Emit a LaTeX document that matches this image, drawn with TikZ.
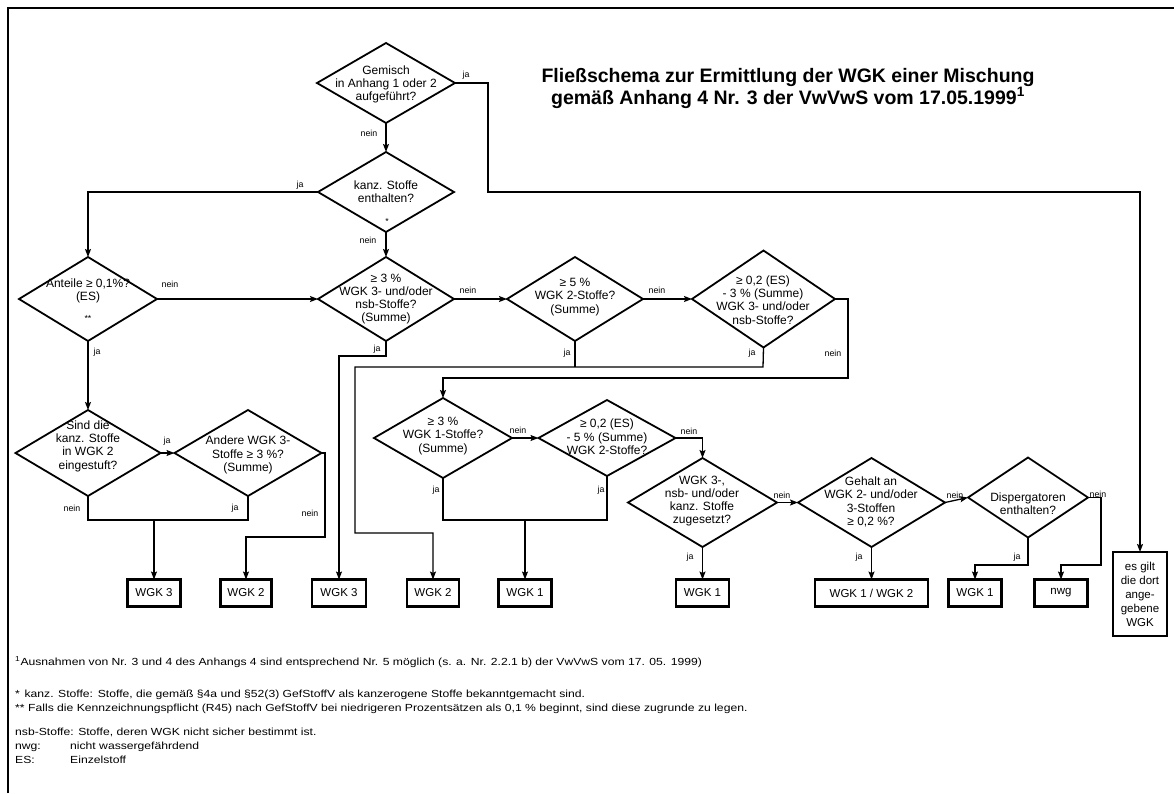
\documentclass[tikz,border=0pt]{standalone}
\usepackage{fontspec}
\setmainfont{Liberation Sans}
\usetikzlibrary{shapes.geometric,arrows.meta}
\begin{document}
\begin{tikzpicture}[x=1pt,y=-1pt,
  dia/.style={diamond,draw,line width=1.8pt,inner sep=0pt,outer sep=0pt},
  dtxt/.style={align=center,inner sep=0pt,font=\fontsize{12}{13.3}\selectfont},
  res/.style={draw,line width=2.5pt,inner sep=0pt,outer sep=0pt,minimum height=27pt,font=\fontsize{11.5}{13}\selectfont},
  lab/.style={inner sep=0pt,font=\fontsize{8.8}{9}\selectfont},
  ln/.style={line width=1.3pt},
  ar/.style={line width=1.3pt,-{Stealth[length=8pt,width=6pt,inset=1.5pt]}},
  foot/.style={anchor=base west,inner sep=0pt,font=\fontsize{10.3}{12}\selectfont},
]
\useasboundingbox (0,0) rectangle (1174,793);
\draw[line width=2.5pt] (8,793) -- (8,8) -- (1174,8);

% title
\node[align=center,inner sep=0pt,font=\fontsize{19.5}{22}\selectfont\bfseries] (title) at (788,88)
  {Fließschema zur Ermittlung der WGK einer Mischung\\gemäß Anhang 4 Nr. 3 der VwVwS vom 17.05.1999\textsuperscript{1}};

% diamonds
\node[dia,minimum width=138,minimum height=80] (d1) at (386,83) {};
\node[dtxt] (t1) at (386,84.5) {Gemisch\\in Anhang 1 oder 2\\aufgeführt?};
\node[dia,minimum width=136,minimum height=80] (d2) at (386,192) {};
\node[dtxt] (t2) at (386,191.5) {kanz. Stoffe\\enthalten?};
\node[lab] (s1) at (387,221) {*};
\node[dia,minimum width=138,minimum height=84] (d3) at (88,299) {};
\node[dtxt] (t3) at (88,291) {Anteile ≥ 0,1\%?\\(ES)};
\node[lab] (s2) at (88,318) {**};
\node[dia,minimum width=136,minimum height=84] (d4) at (386,299) {};
\node[dtxt] (t4) at (386,299) {≥ 3 \%\\WGK 3- und/oder\\nsb-Stoffe?\\(Summe)};
\node[dia,minimum width=136,minimum height=84] (d5) at (575,299) {};
\node[dtxt] (t5) at (575,297) {≥ 5 \%\\WGK 2-Stoffe?\\(Summe)};
\node[dia,minimum width=143,minimum height=97] (d6) at (763.5,299) {};
\node[dtxt] (t6) at (763,300) {≥ 0,2 (ES)\\- 3 \% (Summe)\\WGK 3- und/oder\\nsb-Stoffe?};
\node[dia,minimum width=145,minimum height=86] (d7) at (88,453) {};
\node[dtxt] (t7) at (88,446) {Sind die\\kanz. Stoffe\\in WGK 2\\eingestuft?};
\node[dia,minimum width=147,minimum height=86] (d8) at (248,453) {};
\node[dtxt] (t8) at (248,455) {Andere WGK 3-\\Stoffe ≥ 3 \%?\\(Summe)};
\node[dia,minimum width=138,minimum height=80] (d9) at (443,438) {};
\node[dtxt] (t9) at (443,436) {≥ 3 \%\\WGK 1-Stoffe?\\(Summe)};
\node[dia,minimum width=137,minimum height=76] (d10) at (607,438) {};
\node[dtxt] (t10) at (607,437) {≥ 0,2 (ES)\\- 5 \% (Summe)\\WGK 2-Stoffe?};
\node[dia,minimum width=149,minimum height=89] (d11) at (702.5,502.5) {};
\node[dtxt] (t11) at (702,501) {WGK 3-,\\nsb- und/oder\\kanz. Stoffe\\zugesetzt?};
\node[dia,minimum width=147,minimum height=89] (d12) at (871.5,502.5) {};
\node[dtxt] (t12) at (871,502) {Gehalt an\\WGK 2- und/oder\\3-Stoffen\\≥ 0,2 \%?};
\node[dia,minimum width=120,minimum height=80] (d13) at (1028,497.5) {};
\node[dtxt] (t13) at (1028,504) {Dispergatoren\\enthalten?};

% result boxes
\node[res,minimum width=53] (w3a) at (154,593) {WGK 3};
\node[res,minimum width=51] (w2a) at (246,593) {WGK 2};
\node[res,minimum width=54] (w3b) at (339,593) {WGK 3};
\node[res,minimum width=52] (w2b) at (433,593) {WGK 2};
\node[res,minimum width=53] (w1a) at (525,593) {WGK 1};
\node[res,minimum width=53] (w1b) at (702.5,593) {WGK 1};
\node[res,minimum width=113] (w12) at (871.5,593) {WGK 1 / WGK 2};
\node[res,minimum width=53] (w1c) at (975,593) {WGK 1};
\node[res,minimum width=53] (nwg) at (1061,593) {nwg};
\node[res,minimum width=54,minimum height=84,align=center,font=\fontsize{11.5}{14}\selectfont] (es) at (1140,594) {es gilt\\die dort\\ange-\\gebene\\WGK};

% connectors
\draw[ar] (d1.south) -- (d2.north);
\draw[ar] (d1.east) -| (488,192) -| (es.north);
\draw[ar] (d2.south) -- (d4.north);
\draw[ar] (d2.west) -| (d3.north);
\draw[ar] (d3.east) -- (d4.west);
\draw[ar] (d4.east) -- (d5.west);
\draw[ar] (d5.east) -- (d6.west);
\draw[ar] (d6.east) -- (848,299) |- (443,378) -- (d9.north);
\draw[ar] (d4.south) -- (386,356) -| (w3b.north);
\draw[ln] (d5.south) -- (575,367);
\draw[ar] (d6.south) -- (763,367) -| (355,533) -| (w2b.north);
\draw[ar] (d3.south) -- (d7.north);
\draw[ar] (d7.east) -- (d8.west);
\draw[ln] (d7.south) -- (88,520) -| (d8.south);
\coordinate (j1) at (154,520);
\draw[ar] (j1) -- (w3a.north);
\draw[ar] (d8.east) -- (325,453) |- (246,537) -- (w2a.north);
\draw[ln] (d9.south) -- (443,520) -| (d10.south);
\coordinate (j2) at (525,520);
\draw[ar] (j2) -- (w1a.north);
\draw[ar] (d9.east) -- (d10.west);
\draw[ar] (d10.east) -| (d11.north);
\draw[ar] (d11.south) -- (w1b.north);
\draw[ar] (d11.east) -- (d12.west);
\draw[ar] (d12.east) -- (d13.west);
\draw[ar] (d12.south) -- (w12.north);
\draw[ar] (d13.south) -- (1028,565) -| (w1c.north);
\draw[ar] (d13.east) -- ++(13,0) |- (1061,565) -- (nwg.north);

% labels
\node[lab] (l1) at (466,75) {ja};
\node[lab] (l2) at (369,133) {nein};
\node[lab] (l3) at (300,185) {ja};
\node[lab] (l4) at (368,240) {nein};
\node[lab] (l5) at (170,284) {nein};
\node[lab] (l6) at (97,352) {ja};
\node[lab] (l7) at (377,349) {ja};
\node[lab] (l8) at (468,290) {nein};
\node[lab] (l9) at (657,290) {nein};
\node[lab] (l10) at (567,353) {ja};
\node[lab] (l11) at (752,353) {ja};
\node[lab] (l12) at (833,353) {nein};
\node[lab] (l13) at (167,441) {ja};
\node[lab] (l14) at (72,508) {nein};
\node[lab] (l15) at (235,508) {ja};
\node[lab] (l16) at (310,513) {nein};
\node[lab] (l17) at (436,490) {ja};
\node[lab] (l18) at (601,490) {ja};
\node[lab] (l19) at (518,430) {nein};
\node[lab] (l20) at (689,431) {nein};
\node[lab] (l21) at (690,557) {ja};
\node[lab] (l22) at (859,557) {ja};
\node[lab] (l23) at (1017,557) {ja};
\node[lab] (l24) at (782,495) {nein};
\node[lab] (l25) at (955,495) {nein};
\node[lab] (l26) at (1098,494) {nein};

% footnotes
\node[foot] (f1) at (15,665.5) {\scalebox{1.18}[1]{\textsuperscript{1}Ausnahmen von Nr. 3 und 4 des Anhangs 4 sind entsprechend Nr. 5 möglich (s. a. Nr. 2.2.1 b) der VwVwS vom 17. 05. 1999)}};
\node[foot] (f2) at (15,697.5) {\scalebox{1.18}[1]{*\hspace{4pt}kanz. Stoffe:\hspace{4pt}Stoffe, die gemäß §4a und §52(3) GefStoffV als kanzerogene Stoffe bekanntgemacht sind.}};
\node[foot] (f3) at (15,711.5) {\scalebox{1.18}[1]{**\hspace{3pt}Falls die Kennzeichnungspflicht (R45) nach GefStoffV bei niedrigeren Prozentsätzen als 0,1 \% beginnt, sind diese zugrunde zu legen.}};
\node[foot] (f4) at (15,735.5) {\scalebox{1.18}[1]{nsb-Stoffe: Stoffe, deren WGK nicht sicher bestimmt ist.}};
\node[foot] (f5) at (15,749.5) {\scalebox{1.18}[1]{nwg:}};
\node[foot] (f5b) at (70,749.5) {\scalebox{1.18}[1]{nicht wassergefährdend}};
\node[foot] (f6) at (15,763.5) {\scalebox{1.18}[1]{ES:}};
\node[foot] (f6b) at (70,763.5) {\scalebox{1.18}[1]{Einzelstoff}};
\end{tikzpicture}
\end{document}
